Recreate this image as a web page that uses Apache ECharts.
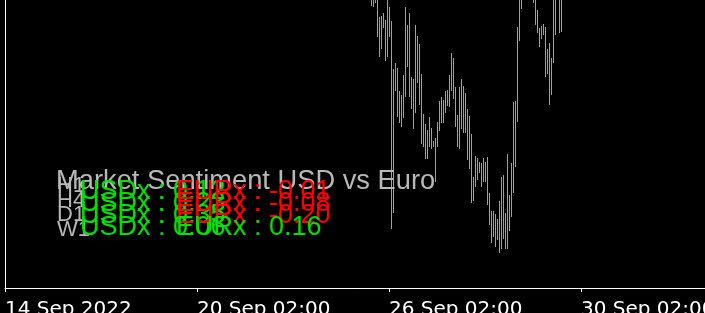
<!DOCTYPE html>
<html>
<head>
<meta charset="utf-8">
<script src="https://cdn.jsdelivr.net/npm/echarts@6/dist/echarts.min.js"></script>
<style>
html,body{margin:0;padding:0;background:#000;}
#chart{width:705px;height:313px;}
</style>
</head>
<body>
<div id="chart"></div>
<script>
// EURUSD H1 bars (high / low), first entry is bar number firstBar on the time axis
const firstBar = 183;
const barHigh = [
0.9815,0.9812,0.9806,0.9808,0.9783,0.9784,0.9787,0.9780,0.9804,0.9793,
0.9779,0.9731,0.9737,0.9732,0.9709,0.9705,0.9725,0.9793,0.9775,0.9787,
0.9723,0.9721,0.9775,0.9764,0.9756,0.9726,0.9686,0.9676,0.9670,0.9683,
0.9672,0.9659,0.9662,0.9678,0.9699,0.9703,0.9700,0.9709,0.9710,0.9725,
0.9747,0.9742,0.9713,0.9685,0.9713,0.9721,0.9714,0.9707,0.9691,0.9684,
0.9666,0.9623,0.9644,0.9642,0.9638,0.9637,0.9642,0.9638,0.9643,0.9607,
0.9589,0.9589,0.9586,0.9581,0.9599,0.9623,0.9625,0.9587,0.9646,0.9605,
0.9637,0.9698,0.9699,0.9773,0.9812,0.9815,0.9830,0.9835,0.9840,0.9838,
0.9832,0.9825,0.9818,0.9790,0.9772,0.9774,0.9776,0.9773,0.9751,0.9757,
0.9742,0.9815,0.9812,0.9825,0.9818,0.9820
];
const barLow = [
0.9794,0.9793,0.9797,0.9763,0.9743,0.9751,0.9772,0.9739,0.9743,0.9763,
0.9571,0.9587,0.9709,0.9683,0.9677,0.9673,0.9682,0.9703,0.9733,0.9703,
0.9691,0.9671,0.9687,0.9717,0.9695,0.9656,0.9653,0.9641,0.9641,0.9653,
0.9651,0.9653,0.9618,0.9653,0.9669,0.9677,0.9677,0.9687,0.9694,0.9693,
0.9709,0.9701,0.9673,0.9653,0.9651,0.9671,0.9667,0.9667,0.9640,0.9631,
0.9597,0.9599,0.9613,0.9620,0.9627,0.9613,0.9618,0.9618,0.9595,0.9575,
0.9557,0.9563,0.9553,0.9560,0.9547,0.9551,0.9561,0.9551,0.9551,0.9569,
0.9583,0.9607,0.9633,0.9678,0.9759,0.9791,0.9805,0.9808,0.9812,0.9810,
0.9806,0.9797,0.9775,0.9767,0.9753,0.9761,0.9765,0.9723,0.9726,0.9695,
0.9705,0.9737,0.9765,0.9802,0.9767,0.9768
];
const tickBars = [0, 96, 192, 288];
const tickLabels = ['14 Sep 2022', '20 Sep 02:00', '26 Sep 02:00', '30 Sep 02:00'];

const sentimentTitle = 'Market Sentiment USD vs Euro';
const timeframes = ['H1', 'H4', 'D1', 'W1'];
const usdValues = ['0.12', '0.23', '0.35', '0.06'];
const eurValues = ['-0.01', '-0.08', '-0.20', '0.16'];

const BAR_COLOR = '#3ce63c';
const GREEN = '#00e000';
const RED = '#ff0000';
const GREY = '#b8b8b8';

const chart = echarts.init(document.getElementById('chart'), null, {renderer: 'canvas'});

const seriesData = barHigh.map((h, k) => [firstBar + k, barLow[k], h]);

const graphics = [];
graphics.push({type: 'text', z: 10, x: 56, y: 167.5,
  style: {text: sentimentTitle, fill: GREY, font: "27.3px 'Liberation Sans'", textVerticalAlign: 'top'}});
const labelTops = [175, 190, 204, 219];
const rowTops = [178, 190, 202, 214];
timeframes.forEach((tf, i) => {
  graphics.push({type: 'text', z: 11, x: 57, y: labelTops[i],
    style: {text: tf, fill: GREY, font: "22px 'Liberation Sans'", textVerticalAlign: 'top'}});
});
usdValues.forEach((v, i) => {
  const val = parseFloat(v);
  graphics.push({type: 'text', z: 12, x: 80, y: rowTops[i],
    style: {text: 'USDx : ' + v, fill: val < 0 ? RED : GREEN, font: "27px 'Liberation Sans'", textVerticalAlign: 'top'}});
});
eurValues.forEach((v, i) => {
  const val = parseFloat(v);
  graphics.push({type: 'text', z: 13, x: 176, y: rowTops[i],
    style: {text: 'EURx : ' + v, fill: val < 0 ? RED : GREEN, font: "27px 'Liberation Sans'", textVerticalAlign: 'top'}});
});

chart.setOption({
  backgroundColor: '#000000',
  animation: false,
  grid: {left: 5, right: 0, top: 0, bottom: 25, containLabel: false, outerBoundsMode: 'none'},
  xAxis: {
    type: 'value', min: 0, max: 350, interval: 96,
    axisLine: {show: true, lineStyle: {color: '#ffffff', width: 1}},
    axisTick: {show: true, length: 4, lineStyle: {color: '#ffffff'}},
    splitLine: {show: false},
    axisLabel: {
      show: true, color: '#ffffff', fontFamily: 'DejaVu Sans', fontSize: 20,
      align: 'left', margin: 12, showMaxLabel: false, hideOverlap: false,
      formatter: v => { const i = tickBars.indexOf(v); return i >= 0 ? tickLabels[i] : ''; }
    }
  },
  yAxis: {
    type: 'value', min: 0.9512, max: 0.98, scale: true,
    axisLine: {show: true, lineStyle: {color: '#ffffff', width: 1}},
    axisTick: {show: false}, axisLabel: {show: false}, splitLine: {show: false}
  },
  series: [{
    type: 'custom',
    clip: true,
    data: seriesData,
    encode: {x: 0, y: [1, 2]},
    renderItem: (params, api) => {
      const x = api.value(0);
      const top = api.coord([x, api.value(2)]);
      const bot = api.coord([x, api.value(1)]);
      const px = Math.round(top[0]) + 0.5;
      return {
        type: 'line',
        shape: {x1: px, y1: top[1], x2: px, y2: bot[1]},
        style: {stroke: BAR_COLOR, lineWidth: 1}
      };
    }
  }],
  graphic: graphics
});
</script>
</body>
</html>
